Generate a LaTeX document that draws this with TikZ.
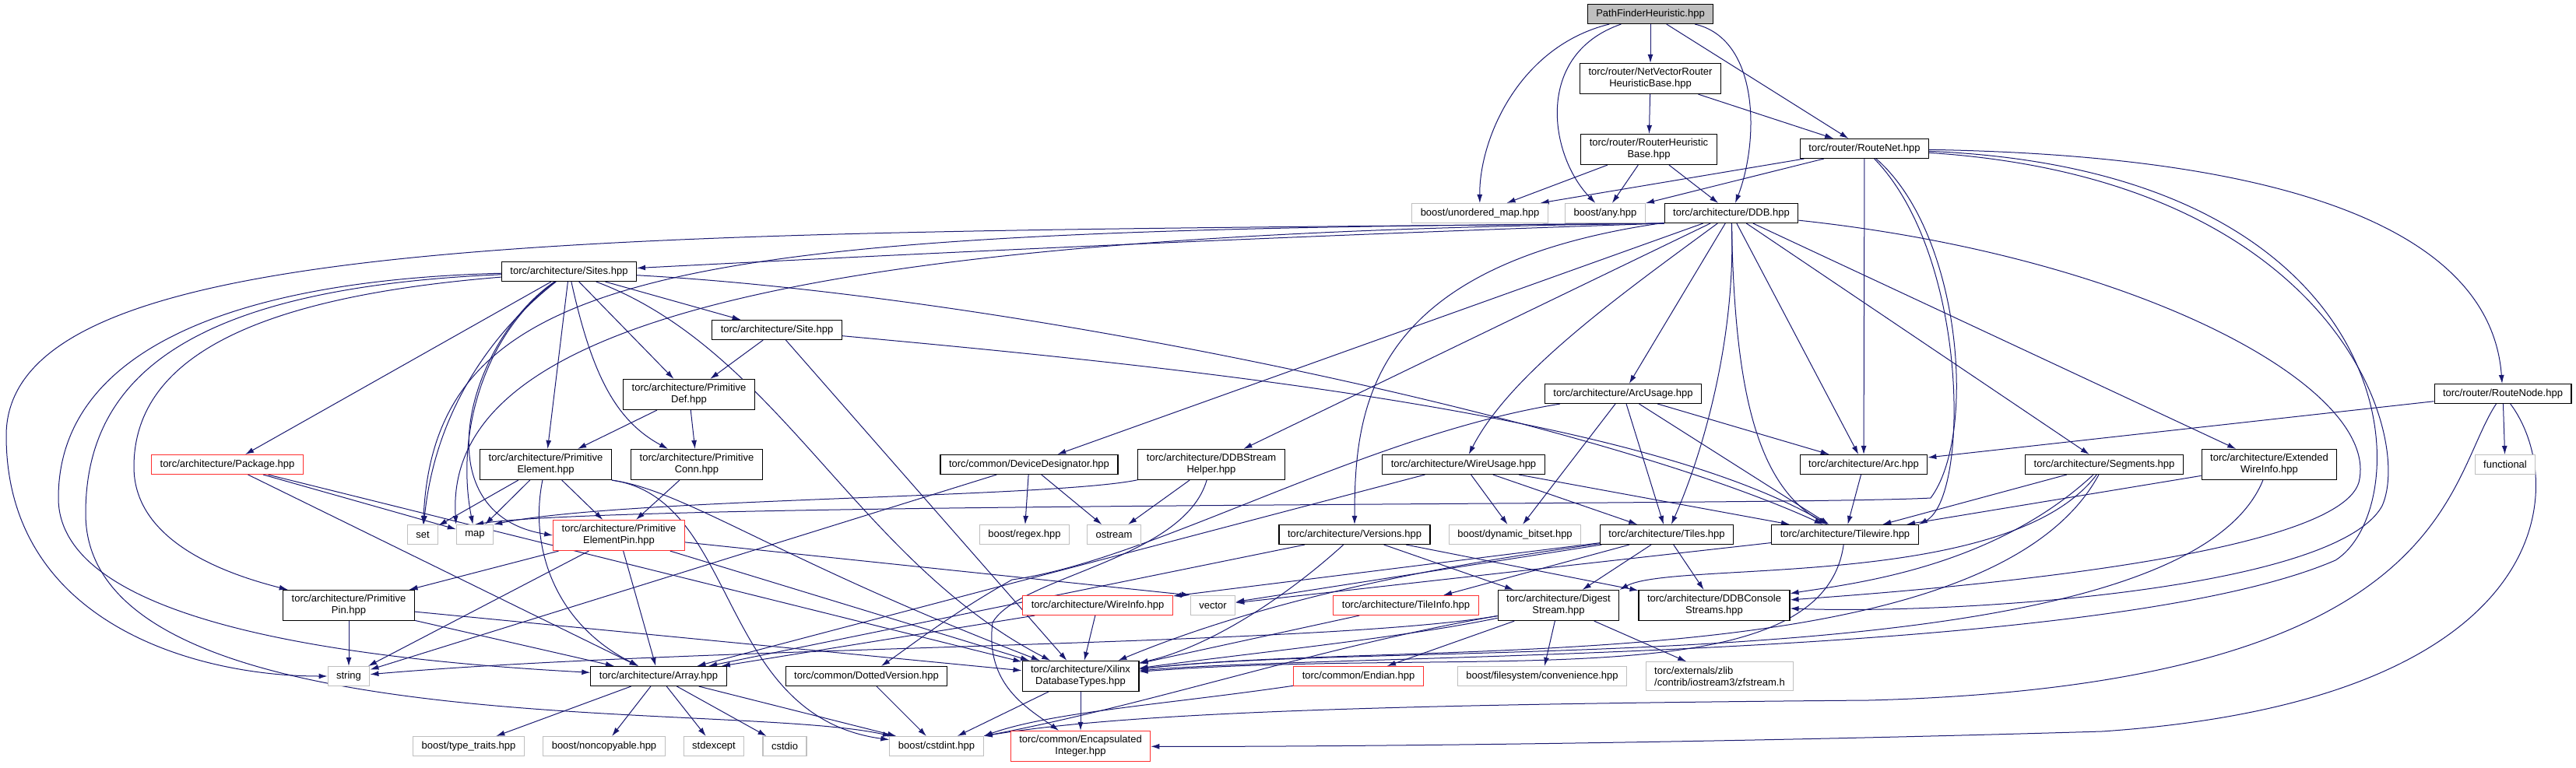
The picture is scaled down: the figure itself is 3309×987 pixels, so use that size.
\documentclass[tikz,border=0pt]{standalone}
\usepackage{fontspec}
\setmainfont{Liberation Sans}
\usepackage{tikz}
\usetikzlibrary{arrows.meta, positioning}
\definecolor{edgeblue}{HTML}{191970}
\definecolor{incred}{HTML}{FF3030}
\definecolor{sysgrey}{HTML}{BFBFBF}
\pgfdeclarelayer{background}
\pgfsetlayers{background,main}

\begin{document}
\begin{tikzpicture}[
    x=1pt, y=-1pt,
    >={Latex[length=11pt,width=7pt]},
    file/.style={rectangle, draw=black, line width=1.1pt, fill=white, inner xsep=11pt, inner ysep=6pt, minimum height=25pt, align=center, font=\fontsize{13}{15}\selectfont},
    sysfile/.style={file, draw=sysgrey},
    redfile/.style={file, draw=incred},
    mainfile/.style={file, fill=sysgrey},
    dep/.style={->, draw=edgeblue, line width=1pt}
]
\useasboundingbox (0,0) rectangle (3309,987);

\node[mainfile] (pf) at (2120,18) {PathFinderHeuristic.hpp};
\node[file] (nvr) at (2120,101) {torc/router/NetVectorRouter\\HeuristicBase.hpp};
\node[file] (rhb) at (2118,192) {torc/router/RouterHeuristic\\Base.hpp};
\node[file] (rnet) at (2395,191) {torc/router/RouteNet.hpp};
\node[sysfile] (umap) at (1901,274) {boost/unordered\_map.hpp};
\node[sysfile] (any) at (2062,274) {boost/any.hpp};
\node[file] (ddb) at (2224,274) {torc/architecture/DDB.hpp};

\node[file] (sites) at (731,349) {torc/architecture/Sites.hpp};
\node[file] (site) at (998,424) {torc/architecture/Site.hpp};
\node[file] (pdef) at (885,507) {torc/architecture/Primitive\\Def.hpp};
\node[file] (pelem) at (701,597) {torc/architecture/Primitive\\Element.hpp};
\node[file] (pconn) at (895,597) {torc/architecture/Primitive\\Conn.hpp};
\node[redfile] (pkg) at (292,597) {torc/architecture/Package.hpp};
\node[file] (arcusage) at (2085,506) {torc/architecture/ArcUsage.hpp};
\node[file] (routenode) at (3215,506) {torc/router/RouteNode.hpp};

\node[file] (devdes) at (1322,597) {torc/common/DeviceDesignator.hpp};
\node[file] (ddbsh) at (1556,597) {torc/architecture/DDBStream\\Helper.hpp};
\node[file] (wireusage) at (1880,597) {torc/architecture/WireUsage.hpp};
\node[file] (arc) at (2394,597) {torc/architecture/Arc.hpp};
\node[file] (segments) at (2703,597) {torc/architecture/Segments.hpp};
\node[file] (extwire) at (2915,597) {torc/architecture/Extended\\WireInfo.hpp};
\node[sysfile] (functional) at (3218,597) {functional};

\node[sysfile] (stdset) at (543,687) {set};
\node[sysfile] (stdmap) at (610,687) {map};
\node[redfile] (pepin) at (795,688) {torc/architecture/Primitive\\ElementPin.hpp};
\node[sysfile] (regex) at (1316,687) {boost/regex.hpp};
\node[sysfile] (ostream) at (1431,687) {ostream};
\node[file] (versions) at (1740,687) {torc/architecture/Versions.hpp};
\node[sysfile] (dynbitset) at (1946,687) {boost/dynamic\_bitset.hpp};
\node[file] (tiles) at (2141,687) {torc/architecture/Tiles.hpp};
\node[file] (tilewire) at (2370,687) {torc/architecture/Tilewire.hpp};

\node[file] (ppin) at (448,778) {torc/architecture/Primitive\\Pin.hpp};
\node[redfile] (wireinfo) at (1410,778) {torc/architecture/WireInfo.hpp};
\node[sysfile] (stdvector) at (1558,778) {vector};
\node[redfile] (tileinfo) at (1806,778) {torc/architecture/TileInfo.hpp};
\node[file] (digest) at (2002,778) {torc/architecture/Digest\\Stream.hpp};
\node[file] (ddbcs) at (2202,778) {torc/architecture/DDBConsole\\Streams.hpp};

\node[sysfile] (stdstring) at (448,869) {string};
\node[file] (array) at (846,869) {torc/architecture/Array.hpp};
\node[file] (dotted) at (1113,869) {torc/common/DottedVersion.hpp};
\node[file] (xdt) at (1388,869) {torc/architecture/Xilinx\\DatabaseTypes.hpp};
\node[redfile] (endian) at (1745,869) {torc/common/Endian.hpp};
\node[sysfile] (fsconv) at (1981,869) {boost/filesystem/convenience.hpp};
\node[sysfile, align=left] (zfstream) at (2209,869) {torc/externals/zlib\\/contrib/iostream3/zfstream.h};

\node[sysfile] (ttraits) at (602,959) {boost/type\_traits.hpp};
\node[sysfile] (noncopy) at (776,959) {boost/noncopyable.hpp};
\node[sysfile] (stdexcept) at (917,959) {stdexcept};
\node[sysfile] (cstdio) at (1008,959) {cstdio};
\node[sysfile] (cstdint) at (1203,959) {boost/cstdint.hpp};
\node[redfile] (encint) at (1388,959) {torc/common/Encapsulated\\Integer.hpp};

\begin{pgfonlayer}{background}
\foreach \a/\b in {pf/nvr, pf/rnet, nvr/rhb, nvr/rnet, rhb/umap, rhb/any, rhb/ddb,
    rnet/umap, rnet/any, rnet/arc,
    ddb/devdes, ddb/ddbsh, ddb/arcusage, ddb/arc, ddb/segments, ddb/extwire,
    sites/site, sites/pdef, sites/pelem, sites/pkg, site/pdef, site/xdt,
    pdef/pelem, pdef/pconn, pconn/pepin, pelem/stdset, pelem/stdmap, pelem/pepin,
    pepin/ppin, pepin/stdstring, pepin/array, pepin/xdt,
    ppin/stdstring, ppin/array, ppin/xdt, pkg/stdmap, pkg/array, pkg/xdt,
    array/ttraits, array/noncopy, array/stdexcept, array/cstdio, array/cstdint,
    devdes/regex, devdes/ostream, devdes/stdstring, ddbsh/ostream,
    versions/array, versions/digest, versions/ddbcs,
    wireusage/dynbitset, wireusage/tiles, wireusage/tilewire, wireusage/array,
    arcusage/dynbitset, arcusage/tiles, arcusage/tilewire, arcusage/arc,
    arc/tilewire, segments/tilewire, extwire/tilewire,
    tiles/wireinfo, tiles/tileinfo, tiles/stdvector, tiles/digest, tiles/ddbcs,
    tilewire/stdvector, wireinfo/xdt, wireinfo/array, tileinfo/xdt,
    digest/endian, digest/fsconv, digest/zfstream,
    dotted/cstdint, xdt/cstdint, xdt/encint,
    routenode/arc, routenode/functional}
  \draw[dep] (\a) -- (\b);

\draw[dep] (pf) .. controls (1950,60) and (1900,180) .. (umap);
\draw[dep] (pf) .. controls (1970,70) and (1990,200) .. (any);
\draw[dep] (pf) .. controls (2260,50) and (2260,180) .. (ddb);
\draw[dep] (rnet) .. controls (2950,200) and (3200,300) .. (routenode);
\draw[dep] (rnet) .. controls (2530,330) and (2530,640) .. (tilewire.north east);
\draw[dep] (rnet) .. controls (2520,300) and (2540,560) .. (2480,640) .. controls (2300,650) and (800,645) .. (stdmap.north);
\draw[dep] (rnet) .. controls (3000,230) and (3100,560) .. (3060,650) .. controls (3000,760) and (2500,790) .. (ddbcs);
\draw[dep] (rnet) .. controls (3100,220) and (3110,650) .. (3000,720) .. controls (2700,850) and (1700,840) .. (xdt);

\draw[dep] (ddb.south west) .. controls (1600,305) and (1100,330) .. (sites);
\draw[dep] (ddb.south west) .. controls (800,300) and (8,290) .. (8,560) .. controls (8,800) and (250,869) .. (stdstring);
\draw[dep] (ddb.south west) .. controls (900,295) and (560,330) .. (stdset);
\draw[dep] (ddb.south west) .. controls (1000,300) and (570,420) .. (stdmap.north west);
\draw[dep] (ddb) .. controls (1760,340) and (1740,520) .. (versions);
\draw[dep] (ddb) .. controls (2080,380) and (1940,480) .. (wireusage);
\draw[dep] (ddb) .. controls (2230,450) and (2180,600) .. (tiles);
\draw[dep] (ddb) .. controls (2228,480) and (2250,620) .. (tilewire);
\draw[dep] (ddb) .. controls (2750,330) and (3060,500) .. (3030,620) .. controls (3000,720) and (2450,760) .. (ddbcs);

\draw[dep] (sites) .. controls (760,480) and (790,540) .. (pconn);
\draw[dep] (sites) .. controls (640,420) and (560,520) .. (stdset);
\draw[dep] (sites) .. controls (620,430) and (585,560) .. (stdmap);
\draw[dep] (sites) .. controls (600,440) and (540,660) .. (pepin.west);
\draw[dep] (sites) .. controls (350,380) and (172,450) .. (172,600) .. controls (172,700) and (300,740) .. (ppin);
\draw[dep] (sites) .. controls (300,360) and (75,450) .. (75,640) .. controls (75,790) and (400,845) .. (array);
\draw[dep] (sites) .. controls (250,370) and (110,480) .. (110,660) .. controls (110,960) and (940,900) .. (cstdint);
\draw[dep] (sites) .. controls (1300,380) and (2050,540) .. (tilewire);
\draw[dep] (sites) .. controls (1000,450) and (1100,720) .. (xdt);
\draw[dep] (site) .. controls (1500,470) and (2100,530) .. (tilewire);

\draw[dep] (pelem) .. controls (680,700) and (710,800) .. (array);
\draw[dep] (pelem.south east) .. controls (880,630) and (1000,720) .. (xdt);
\draw[dep] (pelem.south east) .. controls (950,640) and (920,920) .. (cstdint);
\draw[dep] (pepin) -- (stdvector.north west);

\draw[dep] (versions) .. controls (1660,760) and (1560,830) .. (xdt);
\draw[dep] (arcusage) .. controls (1750,560) and (1480,720) .. (1300,745) .. controls (1220,790) and (1170,830) .. (dotted);
\draw[dep] (ddbsh) .. controls (1350,640) and (800,640) .. (stdmap.north east);
\draw[dep] (ddbsh) .. controls (1520,720) and (1310,740) .. (1275,800) .. controls (1265,880) and (1320,910) .. (encint);

\draw[dep] (tiles) .. controls (1900,720) and (1650,760) .. (xdt);
\draw[dep] (tilewire) .. controls (2340,900) and (1900,830) .. (xdt);
\draw[dep] (segments) .. controls (2560,730) and (2380,750) .. (ddbcs);
\draw[dep] (segments) .. controls (2580,760) and (2150,720) .. (digest.north east);
\draw[dep] (segments) .. controls (2550,880) and (1800,820) .. (xdt);
\draw[dep] (extwire) .. controls (2800,880) and (1800,820) .. (xdt);

\draw[dep] (digest) .. controls (1800,820) and (1600,840) .. (xdt);
\draw[dep] (digest) .. controls (1700,830) and (1480,905) .. (cstdint.north east);
\draw[dep] (digest) .. controls (1700,830) and (900,830) .. (stdstring);
\draw[dep] (endian) .. controls (1500,905) and (1350,915) .. (cstdint.north east);

\draw[dep] (routenode) .. controls (3140,620) and (3150,880) .. (2400,900) .. controls (1800,905) and (1450,915) .. (cstdint.north east);
\draw[dep] (routenode) .. controls (3300,620) and (3290,900) .. (2700,940) .. controls (2200,955) and (1700,960) .. (encint);
\end{pgfonlayer}
\end{tikzpicture}
\end{document}
